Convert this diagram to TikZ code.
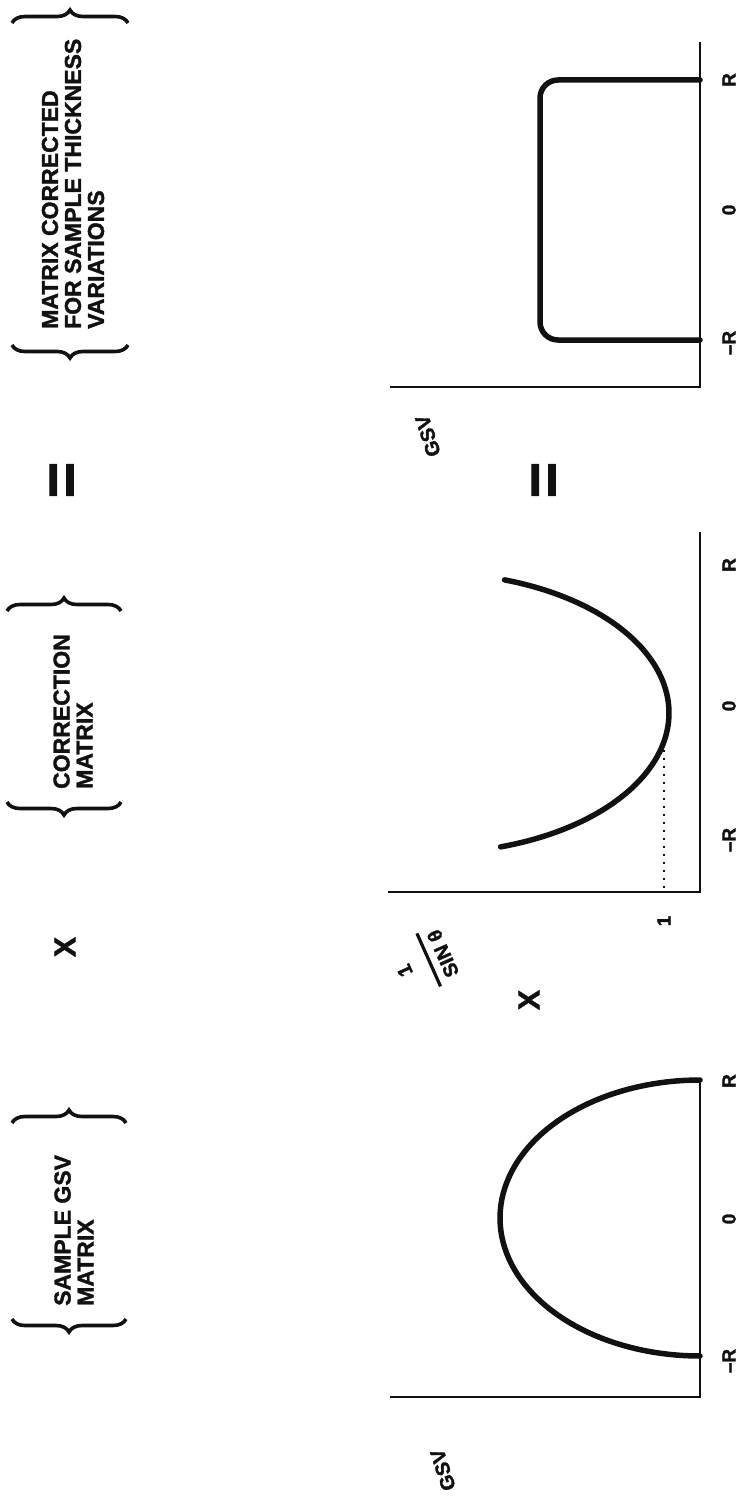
\documentclass[tikz,border=0pt]{standalone}
\usepackage{fontspec}
\setmainfont{Liberation Sans}[BoldFeatures={FakeBold=1.6}]
\usepackage{tikz}
\usetikzlibrary{
  decorations.pathreplacing,
  calc
}
\definecolor{gsvInk}{HTML}{111111}
\tikzset{
  axisline/.style={line width=2.8pt, gsvInk},
  curveline/.style={line width=5.5pt, line cap=round, gsvInk},
  dotline/.style={line width=2pt, dash pattern={on 2pt off 6pt}, gsvInk},
  bracemark/.style={decorate, decoration={brace, amplitude=13pt}, line width=3.6pt, gsvInk},
  grouplabel/.style={
    rotate=90, anchor=west, align=left, inner sep=0pt, text=gsvInk,
    font=\fontsize{23}{23}\selectfont\bfseries
  },
  ticklabel/.style={rotate=90, inner sep=0pt, text=gsvInk, font=\fontsize{19}{19}\selectfont\bfseries},
  axislabel/.style={rotate=108, inner sep=0pt, text=gsvInk, align=center, font=\fontsize{20}{20}\selectfont\bfseries},
  opsign/.style={rotate=90, inner sep=0pt, text=gsvInk, font=\fontsize{62}{62}\selectfont\bfseries},
  timessign/.style={rotate=90, inner sep=0pt, text=gsvInk, font=\fontsize{30}{30}\selectfont\bfseries}
}

\begin{document}
\begin{tikzpicture}[x=1pt, y=-1pt]
  \useasboundingbox (0,0) rectangle (743,1501);

  % word groups with braces
  \node[grouplabel] (corrlbl) at (73,329) {MATRIX CORRECTED\\FOR SAMPLE THICKNESS\\VARIATIONS};
  \node[grouplabel] (cmlbl) at (73,789) {CORRECTION\\MATRIX};
  \node[grouplabel] (gsvlbl) at (74,1306) {SAMPLE GSV\\MATRIX};
  \draw[bracemark] (12,23) -- (128,23);
  \draw[bracemark] (128,345) -- (12,345);
  \draw[bracemark] (7,611) -- (121,611);
  \draw[bracemark] (121,802) -- (7,802);
  \draw[bracemark] (12,1123) -- (126,1123);
  \draw[bracemark] (126,1319) -- (12,1319);

  % operators
  \node[opsign] (eqleft) at (66,480) {=};
  \node[opsign] (eqmid) at (548,480) {=};
  \node[timessign] (timesleft) at (65,947) {X};
  \node[timessign] (timesmid) at (529,1000) {X};

  % corrected matrix (top)
  \coordinate (ctop) at (700,42);
  \coordinate (corg) at (700,387);
  \coordinate (cend) at (390,387);
  \draw[axisline] (ctop) -- (corg) -- (cend);
  \draw[curveline, rounded corners=18pt] (700,80) -- (540,80) -- (540,340) -- (700,340);
  \node[ticklabel] (cR) at (729,80) {R};
  \node[ticklabel] (c0) at (729,210) {0};
  \node[ticklabel] (cmR) at (729,343) {--R};
  \node[axislabel] (cgsv) at (428,436) {GSV};

  % correction matrix (middle)
  \coordinate (mtop) at (700,532);
  \coordinate (morg) at (700,892);
  \coordinate (mend) at (388,892);
  \draw[axisline] (mtop) -- (morg) -- (mend);
  \draw[curveline] plot[domain=-72:73, samples=80] ({431+238*cos(\x)}, {713+140*sin(\x)});
  \coordinate (mone) at (664,742);
  \coordinate (monefoot) at (664,892);
  \draw[dotline] (mone) -- (monefoot);
  \node[ticklabel] (mR) at (729,565) {R};
  \node[ticklabel] (m0) at (729,706) {0};
  \node[ticklabel] (mmR) at (729,840) {--R};
  \node[ticklabel] (mvone) at (664,921) {1};
  \node[axislabel, rotate=6] (minv) at (424,962) {1\\[1pt]\rule{58pt}{3.2pt}\\[1pt]SIN θ};

  % sample matrix (bottom)
  \coordinate (stop) at (700,1080);
  \coordinate (sorg) at (700,1397);
  \coordinate (send) at (390,1397);
  \draw[axisline] (stop) -- (sorg) -- (send);
  \draw[curveline] plot[domain=90:270, samples=80] ({700+200*cos(\x)}, {1218+138*sin(\x)});
  \node[ticklabel] (sR) at (729,1081) {R};
  \node[ticklabel] (s0) at (729,1219) {0};
  \node[ticklabel] (smR) at (729,1361) {--R};
  \node[axislabel] (sgsv) at (443,1470) {GSV};
\end{tikzpicture}
\end{document}
